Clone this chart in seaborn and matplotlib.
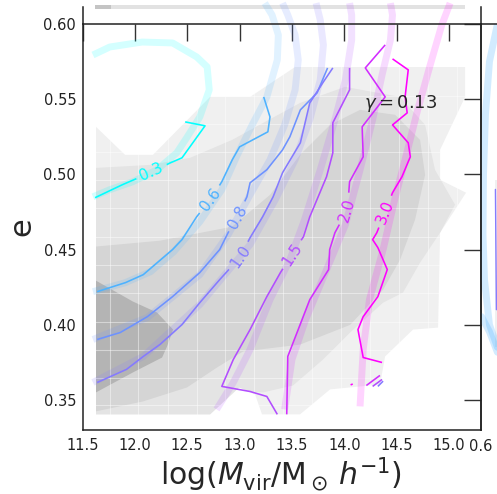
import numpy as np
import matplotlib
matplotlib.use("Agg")
import matplotlib.pyplot as plt
import seaborn as sns
from matplotlib.contour import ContourSet
from matplotlib.colors import LogNorm

sns.set_theme(style="white")
plt.rcParams['font.family'] = ['DejaVu Sans']
plt.rcParams['mathtext.fontset'] = 'dejavusans'

# ---------------- data ----------------
levels = [0.3, 0.6, 0.8, 1.0, 1.5, 2.0, 3.0]
level_labels = ["0.3", "0.6", "0.8", "1.0", "1.5", "2.0", "3.0"]

# measured (thin) contour lines: log Mvir, e
c03_x = [11.62, 11.88, 11.99, 12.16, 12.34, 12.45, 12.67, 12.48]
c03_y = [0.4845, 0.4931, 0.4964, 0.5017, 0.5077, 0.5110, 0.5323, 0.5349]
c06_x = [11.64, 11.91, 12.08, 12.36, 12.45, 12.59, 12.72, 12.83, 12.93, 13.00, 13.27, 13.29, 13.23]
c06_y = [0.4220, 0.4280, 0.4333, 0.4500, 0.4566, 0.4718, 0.4831, 0.4951, 0.5097, 0.5183, 0.5283, 0.5382, 0.5515]
c08_x = [11.64, 11.86, 12.12, 12.36, 12.62, 12.81, 12.89, 12.98, 13.07, 13.10, 13.26, 13.41, 13.48, 13.58, 13.74, 13.84]
c08_y = [0.3902, 0.3948, 0.4054, 0.4187, 0.4347, 0.4500, 0.4612, 0.4718, 0.4851, 0.4944, 0.5031, 0.5163, 0.5250, 0.5429, 0.5542, 0.5708]
c10_x = [11.64, 11.92, 12.08, 12.24, 12.45, 12.62, 12.81, 13.00, 13.10, 13.22, 13.32, 13.41, 13.58, 13.67, 13.80, 13.89]
c10_y = [0.3616, 0.3703, 0.3789, 0.3869, 0.4001, 0.4147, 0.4300, 0.4446, 0.4579, 0.4718, 0.4851, 0.5011, 0.5210, 0.5475, 0.5615, 0.5708]
c15_x = [13.36, 13.26, 13.10, 12.83, 12.94, 13.10, 13.26, 13.39, 13.50, 13.61, 13.67, 13.83, 13.89, 13.89, 14.05, 14.05]
c15_y = [0.3404, 0.3523, 0.3556, 0.3590, 0.3769, 0.3968, 0.4187, 0.4347, 0.4467, 0.4586, 0.4718, 0.4984, 0.5143, 0.5343, 0.5562, 0.5708]
c20_x = [13.45, 13.46, 13.67, 13.85, 13.86, 13.91, 14.03, 14.05, 14.18, 14.17, 14.39, 14.20, 14.39]
c20_y = [0.3404, 0.3789, 0.4167, 0.4367, 0.4500, 0.4612, 0.4765, 0.4951, 0.5117, 0.5316, 0.5515, 0.5708, 0.5861]
c30_x = [14.46, 14.61, 14.58, 14.60, 14.46, 14.61, 14.63, 14.55, 14.46, 14.39, 14.31, 14.27, 14.32, 14.41, 14.32, 14.18, 14.13, 14.18, 14.36]
c30_y = [0.5768, 0.5695, 0.5515, 0.5409, 0.5329, 0.5210, 0.5117, 0.4984, 0.4878, 0.4752, 0.4612, 0.4566, 0.4513, 0.4367, 0.4187, 0.4054, 0.3968, 0.3782, 0.3749]
# small fragments
f10_x = [14.32, 14.37]; f10_y = [0.3590, 0.3625]
f15_x = [14.27, 14.36]; f15_y = [0.3590, 0.3636]
f20_x = [14.21, 14.34]; f20_y = [0.3596, 0.3663]
f30_x = [14.06, 14.08]; f30_y = [0.3600, 0.3606]

label_x = [12.16, 12.72, 12.98, 13.02, 13.50, 14.03, 14.39]
label_y = [0.5017, 0.4831, 0.4718, 0.4446, 0.4467, 0.4765, 0.4752]

# model (thick) contour lines
m03_x = [11.60, 11.76, 11.98, 12.21, 12.40, 12.50, 12.62, 12.71, 12.69, 12.59, 12.36, 12.07, 11.76, 11.60]
m03_y = [0.4851, 0.4898, 0.4951, 0.5030, 0.5143, 0.5249, 0.5382, 0.5562, 0.5715, 0.5781, 0.5874, 0.5880, 0.5847, 0.5794]
m06_x = [11.60, 11.91, 12.15, 12.37, 12.62, 12.83, 12.97, 13.12, 13.26, 13.36, 13.37, 13.31, 13.24]
m06_y = [0.4220, 0.4280, 0.4353, 0.4485, 0.4685, 0.4898, 0.5117, 0.5329, 0.5515, 0.5761, 0.5927, 0.6060, 0.6139]
m08_x = [11.60, 12.12, 12.62, 12.89, 13.10, 13.29, 13.43, 13.53, 13.56, 13.53, 13.46, 13.41]
m08_y = [0.3902, 0.4048, 0.4333, 0.4598, 0.4864, 0.5097, 0.5329, 0.5562, 0.5761, 0.5927, 0.6060, 0.6139]
m10_x = [11.60, 12.08, 12.62, 13.10, 13.34, 13.53, 13.67, 13.77, 13.80, 13.77, 13.73]
m10_y = [0.3616, 0.3789, 0.4134, 0.4533, 0.4831, 0.5097, 0.5363, 0.5628, 0.5861, 0.6027, 0.6139]
m15_x = [12.78, 12.94, 13.10, 13.29, 13.48, 13.62, 13.77, 13.91, 14.01, 14.07, 14.07, 14.05]
m15_y = [0.3437, 0.3616, 0.3835, 0.4167, 0.4432, 0.4698, 0.5030, 0.5363, 0.5628, 0.5894, 0.6060, 0.6139]
m20_x = [13.43, 13.50, 13.63, 13.81, 14.01, 14.15, 14.27, 14.36, 14.44, 14.46, 14.44]
m20_y = [0.3437, 0.3769, 0.4034, 0.4333, 0.4665, 0.5030, 0.5363, 0.5661, 0.5894, 0.6060, 0.6139]
m30_x = [14.15, 14.18, 14.24, 14.37, 14.48, 14.58, 14.70, 14.82, 14.93, 15.01]
m30_y = [0.3457, 0.3835, 0.4167, 0.4500, 0.4831, 0.5097, 0.5429, 0.5728, 0.5993, 0.6139]

# density regions (grey), outer to inner
g0_x = [11.629, 11.906, 12.173, 12.718, 13.100, 13.529, 15.153, 15.153, 14.914, 14.914, 15.162, 14.914,
        14.895, 14.656, 14.389, 14.341, 13.864, 13.577, 13.214, 13.148, 12.995, 12.718, 11.629]
g0_y = [0.5316, 0.5130, 0.5130, 0.5515, 0.5515, 0.5714, 0.5714, 0.5515, 0.5163, 0.4964, 0.4878, 0.4612,
        0.3981, 0.3968, 0.3789, 0.3603, 0.3570, 0.3404, 0.3404, 0.3536, 0.3583, 0.3404, 0.3404]
g1_x = [11.629, 12.145, 12.527, 12.928, 13.243, 13.577, 14.007, 14.532, 14.771, 14.866, 15.057, 14.914,
        14.723, 14.560, 14.370, 14.055, 13.797, 13.510, 13.224, 13.100, 12.995, 12.718, 11.629]
g1_y = [0.5043, 0.5063, 0.5110, 0.5229, 0.5349, 0.5475, 0.5582, 0.5515, 0.5329, 0.5030, 0.4798, 0.4612,
        0.4413, 0.4214, 0.4147, 0.3948, 0.3769, 0.3596, 0.3550, 0.3556, 0.3583, 0.3404, 0.3404]
g2_x = [11.629, 12.240, 12.928, 13.291, 13.577, 13.864, 14.150, 14.485, 14.723, 14.771, 14.675, 14.532,
        14.370, 14.055, 13.577, 13.033, 12.785, 12.498, 12.078, 11.629]
g2_y = [0.4520, 0.4559, 0.4652, 0.4864, 0.5130, 0.5329, 0.5429, 0.5396, 0.5229, 0.4997, 0.4698, 0.4432,
        0.4233, 0.3999, 0.3868, 0.3822, 0.3716, 0.3583, 0.3490, 0.3424]
g3_x = [11.629, 11.982, 12.212, 12.365, 12.307, 12.260, 11.982, 11.629]
g3_y = [0.4293, 0.4154, 0.4081, 0.3968, 0.3855, 0.3782, 0.3683, 0.3550]
grey_colors = ["#f0f0f0", "#e4e4e4", "#d5d5d5", "#b4b4b4"]

# histogram bin edges (faint white seams)
xedges = [11.763, 12.030, 12.317, 12.594, 12.861, 13.138, 13.415, 13.692, 13.969, 14.246, 14.523, 14.800, 15.077]
yedges = [0.3463, 0.3649, 0.3835, 0.4021, 0.4214, 0.4400, 0.4586, 0.4778, 0.4964, 0.5150, 0.5336, 0.5522]

# neighbouring panel fragments
bar_x = [11.62, 15.15]; bar_y = [0.6100, 0.6126]
bar2_x = [11.62, 11.77]
r1_x = [0.634, 0.618, 0.610, 0.606, 0.605, 0.608, 0.618, 0.634]
r1_y = [0.6000, 0.5750, 0.5400, 0.5000, 0.4600, 0.4300, 0.4000, 0.3850]
r2_x = [0.602, 0.618, 0.634]
r2_y = [0.4054, 0.3954, 0.3817]

xticks = [11.5, 12.0, 12.5, 13.0, 13.5, 14.0, 14.5, 15.0]
yticks = [0.35, 0.40, 0.45, 0.50, 0.55, 0.60]

# ---------------- figure ----------------
W, H = 497, 494
fig = plt.figure(figsize=(W / 100, H / 100), dpi=100)
fig.patch.set_facecolor("white")

L, R, B, T = 82.5, 480.5, 430, 24
ax = fig.add_axes([L / W, (H - B) / H, (R - L) / W, (B - T) / H])
ax.set_facecolor("white")

cmap = plt.get_cmap("cool")
norm = LogNorm(0.3, 3.0)
cols = [cmap(norm(v)) for v in levels]

for gx, gy, gc in zip([g0_x, g1_x, g2_x, g3_x], [g0_y, g1_y, g2_y, g3_y], grey_colors):
    ax.fill(gx, gy, color=gc, lw=0, zorder=1)

for xe in xedges:
    ax.axvline(xe, color="white", lw=0.8, alpha=0.45, zorder=1.5)
for ye in yedges:
    ax.axhline(ye, color="white", lw=0.8, alpha=0.45, zorder=1.5)

# grey strip of upper panel
ax.fill_between(bar_x, [bar_y[0]] * 2, [bar_y[1]] * 2, color="#e2e2e2", lw=0, clip_on=False, zorder=1)
ax.fill_between(bar2_x, [bar_y[0]] * 2, [bar_y[1]] * 2, color="#c4c4c4", lw=0, clip_on=False, zorder=1)

model = [(m03_x, m03_y), (m06_x, m06_y), (m08_x, m08_y), (m10_x, m10_y),
         (m15_x, m15_y), (m20_x, m20_y), (m30_x, m30_y)]
for (mx, my), c in zip(model, cols):
    sns.lineplot(x=mx, y=my, sort=False, estimator=None, ax=ax, color=c, lw=5.0,
                 alpha=0.17, clip_on=False, zorder=2, solid_capstyle="butt")

segs = [
    [np.column_stack([c03_x, c03_y])],
    [np.column_stack([c06_x, c06_y])],
    [np.column_stack([c08_x, c08_y])],
    [np.column_stack([c10_x, c10_y]), np.column_stack([f10_x, f10_y])],
    [np.column_stack([c15_x, c15_y]), np.column_stack([f15_x, f15_y])],
    [np.column_stack([c20_x, c20_y]), np.column_stack([f20_x, f20_y])],
    [np.column_stack([c30_x, c30_y]), np.column_stack([f30_x, f30_y])],
]
cs = ContourSet(ax, levels, segs, colors=cols, linewidths=1.15, zorder=3)
fmt = dict(zip(levels, level_labels))
ax.clabel(cs, inline=True, fontsize=11, fmt=fmt, manual=list(zip(label_x, label_y)),
          inline_spacing=4)

ax.text(14.19, 0.5469, r"$\gamma = 0.13$", fontsize=13, va="center", ha="left", zorder=4)

ax.set_xlim(11.5, 15.3)
ax.set_ylim(0.33, 0.60)
ax.set_xticks(xticks)
ax.set_yticks(yticks)
ax.set_xticklabels([f"{v:.1f}" for v in xticks])
ax.set_yticklabels([f"{v:.2f}" for v in yticks])
ax.tick_params(direction="in", length=12, width=1, color="#333333", top=True, right=True,
               labelsize=10.5, labelcolor="#222222")
ax.tick_params(axis="x", pad=5.5)
ax.tick_params(axis="y", pad=4.5)
for s in ax.spines.values():
    s.set_color("#222222")
    s.set_linewidth(1.1)
ax.set_xlabel(r"$\log(M_{\rm vir}/{\rm M}_\odot\, h^{-1})$", fontsize=21.5, labelpad=2)
ax.set_ylabel("e", fontsize=22, labelpad=5)

# upper neighbouring panel (only its frame is visible)
axu = fig.add_axes([L / W, (H - T) / H, (R - L) / W, 17 / H])
axu.set_facecolor("none")
axu.set_xlim(11.5, 15.3)
axu.set_xticks(xticks)
axu.set_yticks([])
axu.tick_params(direction="in", length=12, width=1, color="#333333", labelbottom=False)
axu.spines["top"].set_visible(False)
axu.spines["bottom"].set_visible(False)
for s in axu.spines.values():
    s.set_color("#222222")
    s.set_linewidth(1.1)

# right neighbouring panel
axr = fig.add_axes([R / W, (H - B) / H, (R - L) / W, (B - T) / H])
axr.set_facecolor("none")
axr.fill([0.629, 0.640, 0.640, 0.629], [0.3850, 0.3850, 0.4964, 0.4964], color="#f0f0f0", lw=0)
axr.plot(r1_x, r1_y, color=cols[1], lw=5.0, alpha=0.25, zorder=2)
axr.plot(r2_x, r2_y, color=cols[1], lw=5.0, alpha=0.25, zorder=2)
axr.plot([0.630, 0.632], [0.4900, 0.4100], color=cols[3], lw=1.0, zorder=3)
axr.set_xlim(0.6, 1.4)
axr.set_ylim(0.33, 0.60)
axr.set_xticks([0.6, 0.8, 1.0, 1.2, 1.4])
axr.set_xticklabels(["0.6", "0.8", "1.0", "1.2", "1.4"])
axr.set_yticks(yticks)
axr.set_yticklabels([])
axr.tick_params(axis="y", direction="in", length=12, width=1, color="#333333")
axr.tick_params(axis="x", length=0, pad=5.5 + 1.1, labelsize=10.5, labelcolor="#222222")
axr.spines["bottom"].set_visible(False)
axr.spines["right"].set_visible(False)
for s in axr.spines.values():
    s.set_color("#222222")
    s.set_linewidth(1.1)

fig.savefig("out.png", dpi=100, facecolor="white")
